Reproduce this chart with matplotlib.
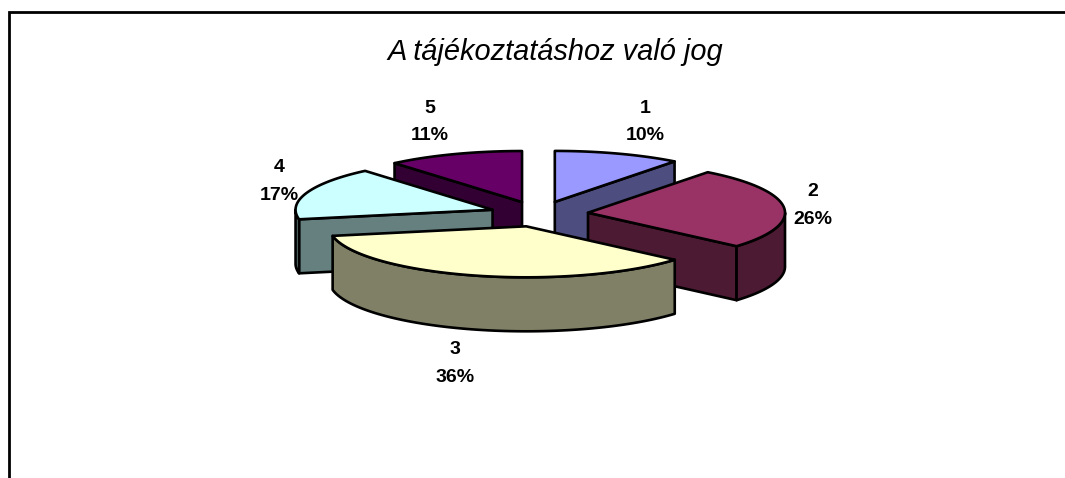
import numpy as np
import matplotlib
matplotlib.use("Agg")
import matplotlib.pyplot as plt
from matplotlib.patches import Polygon

title = "A tájékoztatáshoz való jog"
categories = ["1", "2", "3", "4", "5"]
values = [10.4, 26.0, 35.6, 16.8, 11.2]
top_colors = ["#9999FF", "#993366", "#FFFFCC", "#CCFFFF", "#660066"]
side_colors = ["#4D4D80", "#4D1A33", "#808066", "#668080", "#330033"]

# layout (pixels of the 1065x478 canvas)
CX, CY, RX, RY, DEPTH, EXPLODE = 539, 214, 197, 51, 54, 0.25
label_pos = [(645, 108), (813, 192), (455, 349), (279, 168), (430, 108)]
LINE_GAP = 28
LW = 1.9

plt.rcParams["font.family"] = ["Liberation Sans", "DejaVu Sans"]
fig = plt.figure(figsize=(10.65, 4.78), dpi=100, facecolor="white")
ax = fig.add_axes([0, 0, 1, 1])
ax.set_xlim(0, 1065)
ax.set_ylim(478, 0)
ax.axis("off")

# chart frame: only its top and left edges fall inside the canvas
ax.plot([8.5, 8.5, 1070], [490, 11.5, 11.5], color="black", lw=2.0, solid_joinstyle="miter")

vals = np.array(values, dtype=float)
edges = np.concatenate([[0], np.cumsum(vals)]) / vals.sum() * 2 * np.pi


def rim(x0, y0, a):
    return x0 + RX * np.sin(a), y0 - RY * np.cos(a)


slices = []
for i in range(len(vals)):
    a0, a1 = edges[i], edges[i + 1]
    mid = (a0 + a1) / 2
    x0 = CX + EXPLODE * RX * np.sin(mid)
    y0 = CY - EXPLODE * RY * np.cos(mid)
    slices.append((y0, i, x0, a0, a1))

for y0, i, x0, a0, a1 in sorted(slices):
    style = dict(edgecolor="black", linewidth=LW, joinstyle="round")
    # radial walls that face the viewer
    for a, visible in ((a0, np.sin(a0) < -1e-9), (a1, np.sin(a1) > 1e-9)):
        if visible:
            xr, yr = rim(x0, y0, a)
            ax.add_patch(Polygon([(x0, y0), (xr, yr), (xr, yr + DEPTH), (x0, y0 + DEPTH)],
                                 closed=True, facecolor=side_colors[i], **style))
    # outer wall: the part of the rim on the front half of the ellipse
    lo, hi = max(a0, np.pi / 2), min(a1, 3 * np.pi / 2)
    if hi > lo:
        t = np.linspace(lo, hi, 80)
        xs, ys = rim(x0, y0, t)
        pts = np.r_[np.c_[xs, ys], np.c_[xs[::-1], ys[::-1] + DEPTH]]
        ax.add_patch(Polygon(pts, closed=True, facecolor=side_colors[i], **style))
    # top face
    t = np.linspace(a0, a1, 120)
    xs, ys = rim(x0, y0, t)
    pts = np.r_[[[x0, y0]], np.c_[xs, ys]]
    ax.add_patch(Polygon(pts, closed=True, facecolor=top_colors[i], **style))

for cat, v, (lx, ly) in zip(categories, vals, label_pos):
    ax.text(lx, ly, cat, ha="center", va="center", fontsize=14, fontweight="bold", color="black")
    ax.text(lx, ly + LINE_GAP, f"{v:.0f}%", ha="center", va="center", fontsize=14,
            fontweight="bold", color="black")

ax.text(555, 52, title, ha="center", va="center", fontsize=20.9, style="italic", color="black")

fig.savefig("out.png", dpi=100, facecolor="white")
